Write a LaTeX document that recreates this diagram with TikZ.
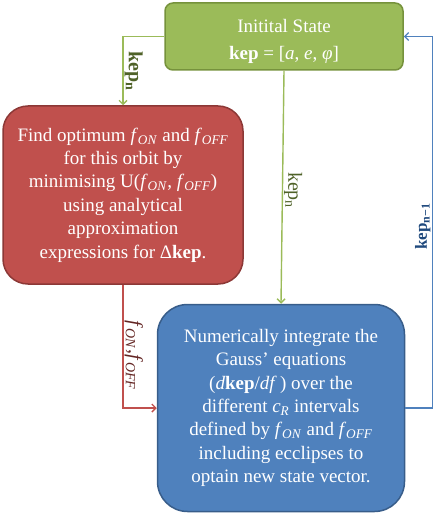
\documentclass[tikz,border=0pt]{standalone}
\usepackage{fontspec}
\setmainfont{Liberation Serif}
\usetikzlibrary{arrows.meta}

\definecolor{stategreen}{RGB}{155,187,89}
\definecolor{stategreenD}{RGB}{118,146,60}
\definecolor{stategreenT}{RGB}{79,98,40}
\definecolor{optred}{RGB}{192,80,77}
\definecolor{optredD}{RGB}{140,56,54}
\definecolor{optredT}{RGB}{99,37,35}
\definecolor{intblue}{RGB}{79,129,189}
\definecolor{intblueD}{RGB}{56,93,138}
\definecolor{intblueT}{RGB}{31,73,125}

\newcommand{\kep}{\textbf{kep}}
\newcommand{\fON}{\textit{f}\textsubscript{\textit{ON}}}
\newcommand{\fOFF}{\textit{f}\textsubscript{\textit{OFF}}}

\begin{document}
\begin{tikzpicture}[x=1pt,y=-1pt,>={Straight Barb[length=4pt,width=8pt]},
  box/.style={rectangle,line width=1.5pt,text=white,align=center,inner sep=0pt,
    font=\fontsize{19}{23.4}\selectfont},
  flow/.style={->,line width=1.4pt},
  lbl/.style={inner sep=1pt}]
  \useasboundingbox (0,0) rectangle (436,516);
  % boxes
  \node[box,draw=stategreenD,fill=stategreen,rounded corners=8pt,
    minimum width=238pt,minimum height=67pt,font=\fontsize{19}{27}\selectfont] (init) at (284,36.5)
    {\rule{0pt}{24pt}Initital State\\ \kep{} = [\textit{a}, \textit{e}, \textit{φ}]};
  \node[box,draw=optredD,fill=optred,rounded corners=25pt,
    minimum width=240pt,minimum height=178pt] (opt) at (123,195)
    {Find optimum \fON{} and \fOFF\\ for this orbit by\\ minimising U(\fON, \fOFF)\\
     using analytical\\ approximation\\ expressions for Δ\kep.};
  \node[box,draw=intblueD,fill=intblue,rounded corners=30pt,
    minimum width=247pt,minimum height=207pt] (integ) at (281,408)
    {Numerically integrate the\\ Gauss’ equations\\ (\textit{d}\kep/\textit{df}\,) over the\\
     different \textit{c}\textsubscript{\textit{R}} intervals\\ defined by \fON{} and \fOFF\\
     including ecclipses to\\ optain new state vector.};
  % connectors
  \draw[flow,stategreen] (init.west) -| node[lbl,pos=0.75,rotate=-90,anchor=south,
    text=stategreenT,font=\fontsize{20}{22}\selectfont] {\kep\textsubscript{\textbf{n}}} (opt.north);
  \draw[flow,stategreen] (init.south) -- node[lbl,midway,rotate=-90,anchor=south,
    text=stategreenT,xshift=3pt,font=\fontsize{20}{22}\selectfont] {kep\textsubscript{n}} (integ.north);
  \draw[flow,optred] (opt.south) |- node[lbl,pos=0.27,rotate=-90,anchor=south,
    text=optredT,xshift=4pt,font=\fontsize{20}{22}\selectfont] {\fON,\fOFF} (integ.west);
  \draw[flow,intblue] (integ.east) -- ++(27,0) |- node[lbl,pos=0.255,rotate=90,
    anchor=south,text=intblueT,xshift=-8pt,font=\fontsize{17}{19}\selectfont]
    {\kep\textsubscript{\textbf{n−1}}} (init.east);
\end{tikzpicture}
\end{document}
